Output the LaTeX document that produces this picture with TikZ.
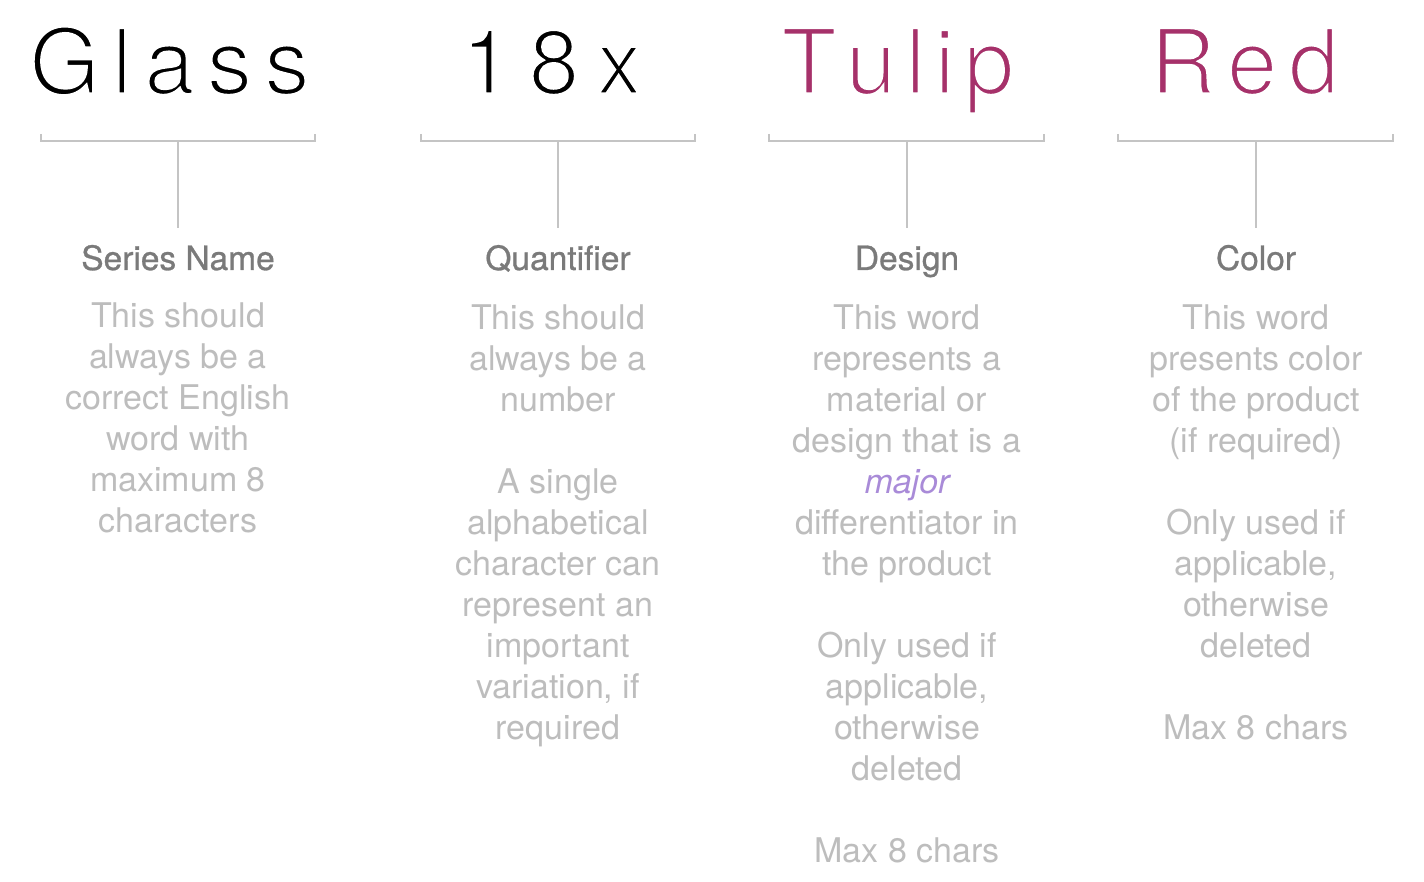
\documentclass[tikz,border=0pt]{standalone}
\usepackage{fontspec}
\setmainfont{TeX Gyre Heros}
\newfontfamily\headfont{TeX Gyre Heros}[FakeBold=0.8]
\definecolor{wordred}{HTML}{A6316A}
\definecolor{headgray}{HTML}{7A7A7A}
\definecolor{bodygray}{HTML}{BDBDBD}
\definecolor{linegray}{HTML}{C4C4C4}
\definecolor{majorpurple}{HTML}{A98BD8}
\newcommand\thinword[1]{\special{pdf:literal direct 2 Tr 1 1 1 RG 3 w}#1\special{pdf:literal direct 0 Tr}}
\begin{document}
\begin{tikzpicture}[x=1pt,y=-1pt,
  bigword/.style={anchor=base west, inner sep=0pt, font=\fontsize{91}{91}\selectfont},
  heading/.style={anchor=base, inner sep=0pt, text=headgray, font=\headfont\fontsize{33.5}{41}\selectfont},
  body/.style={anchor=north, inner sep=0pt, align=center, text=bodygray, font=\fontsize{34}{41}\selectfont},
  bracket/.style={draw=linegray, line width=2pt}]
\useasboundingbox (0,0) rectangle (1424,882);

% big words
\node[bigword, text=black] (w1) at (29,94) {\thinword{G\kern12pt l\kern12pt a\kern12pt s\kern12pt s}};
\node[bigword, text=black] (w2) at (461,94) {\thinword{1\kern17pt 8\kern17pt x}};
\node[bigword, text=wordred] (w3) at (781,94) {\thinword{T\kern9pt u\kern9pt l\kern9pt i\kern9pt p}};
\node[bigword, text=wordred] (w4) at (1150,94) {\thinword{R\kern11pt e\kern11pt d}};

% headings
\node[heading] (h1) at (178,270) {Series Name};
\node[heading] (h2) at (558,270) {Quantifier};
\node[heading] (h3) at (907,270) {Design};
\node[heading] (h4) at (1256,270) {Color};

% bodies
\node[body] (b1) at (178,303) {This should\\always be a\\correct English\\word with\\maximum 8\\characters};
\node[body] (b2) at (558,305) {This should\\always be a\\number\\~\\A single\\alphabetical\\character can\\represent an\\important\\variation, if\\required};
\node[body] (b3) at (907,305) {This word\\represents a\\material or\\design that is a\\\textcolor{majorpurple}{\itshape major}\\differentiator in\\the product\\~\\Only used if\\applicable,\\otherwise\\deleted\\~\\Max 8 chars};
\node[body] (b4) at (1256,305) {This word\\presents color\\of the product\\(if required)\\~\\Only used if\\applicable,\\otherwise\\deleted\\~\\Max 8 chars};

% brackets and stems
\foreach \i/\l/\r/\c in {1/41/315/178, 2/421/695/558, 3/769/1044/907, 4/1118/1393/1256}{
  \coordinate (bl\i) at (\l,134);
  \coordinate (br\i) at (\r,134);
  \coordinate (bm\i) at (\c,141);
  \coordinate (se\i) at (\c,228);
  \draw[bracket] (bl\i) |- (br\i |- bm\i) -- (br\i);
  \draw[bracket] (bm\i) -- (se\i);
}
\end{tikzpicture}
\end{document}
